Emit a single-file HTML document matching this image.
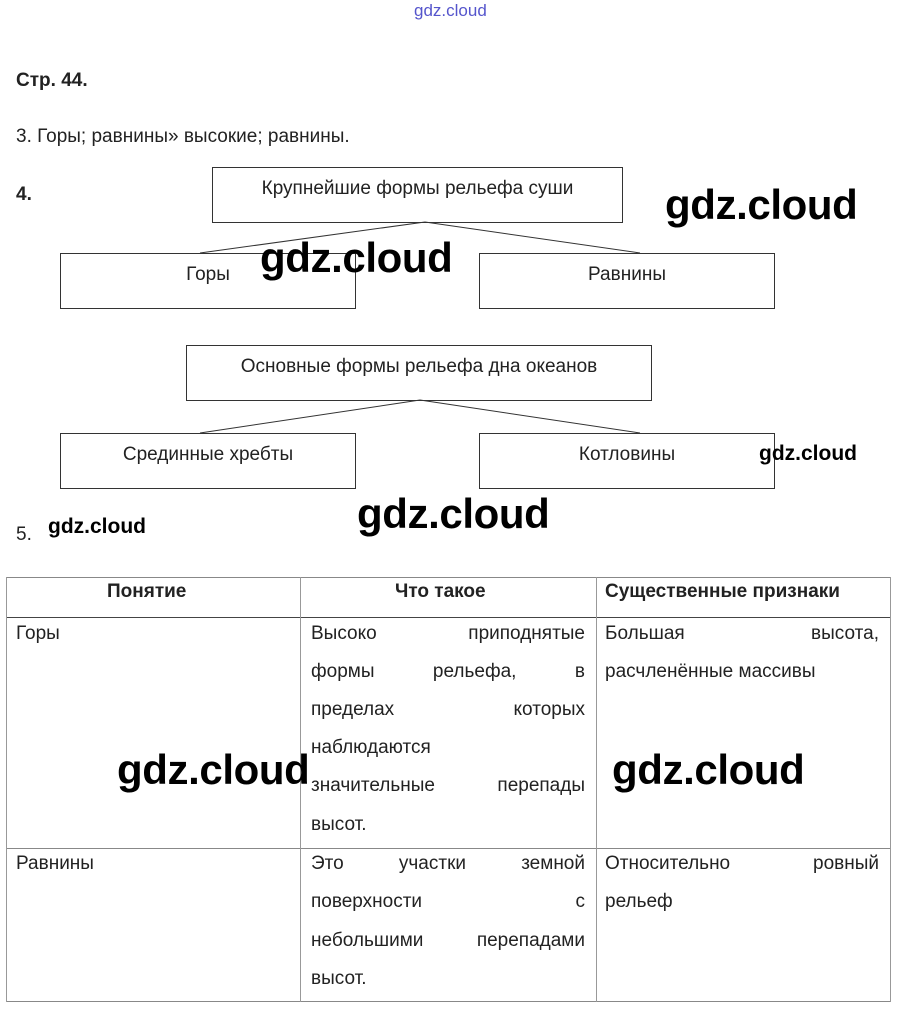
<!DOCTYPE html>
<html><head><meta charset="utf-8"><style>
body{margin:0;width:905px;height:1016px;background:#fff;position:relative;overflow:hidden;font-family:"Liberation Sans",sans-serif;color:#222}
.a{position:absolute;white-space:nowrap}
.box{position:absolute;border:1px solid #333;box-sizing:border-box;text-align:center;font-size:19px;padding-top:10px}
.wm{position:absolute;font-family:"Liberation Sans",sans-serif;font-weight:bold;color:#000;font-size:42px;letter-spacing:-0.4px;white-space:nowrap}
.ln{position:absolute;display:flex;justify-content:space-between;font-size:19px;white-space:nowrap}
.v{position:absolute;width:1px;background:#999}
.h{position:absolute;height:1px;background:#888}
</style></head><body>
<div class="a" style="left:414px;top:1px;font-size:17px;color:#55c">gdz.cloud</div>
<div class="a" style="left:16px;top:70px;font-size:19px;font-weight:bold">Стр. 44.</div>
<div class="a" style="left:16px;top:126px;font-size:19px">3. Горы; равнины» высокие; равнины.</div>
<div class="a" style="left:16px;top:184px;font-size:19px;font-weight:bold">4.</div>

<svg class="a" style="left:0;top:0" width="905" height="520">
<line x1="425" y1="222" x2="200" y2="253" stroke="#333"/>
<line x1="425" y1="222" x2="640" y2="253" stroke="#333"/>
<line x1="420" y1="400" x2="200" y2="433" stroke="#333"/>
<line x1="420" y1="400" x2="640" y2="433" stroke="#333"/>
</svg>
<div class="box" style="left:212px;top:167px;width:411px;height:56px">Крупнейшие формы рельефа суши</div>
<div class="box" style="left:60px;top:253px;width:296px;height:56px">Горы</div>
<div class="box" style="left:479px;top:253px;width:296px;height:56px">Равнины</div>
<div class="box" style="left:186px;top:345px;width:466px;height:56px">Основные формы рельефа дна океанов</div>
<div class="box" style="left:60px;top:433px;width:296px;height:56px">Срединные хребты</div>
<div class="box" style="left:479px;top:433px;width:296px;height:56px">Котловины</div>

<div class="a" style="left:16px;top:524px;font-size:19px">5.</div>

<div class="h" style="left:6px;top:577px;width:885px"></div>
<div class="h" style="left:6px;top:617px;width:885px;background:#444"></div>
<div class="h" style="left:6px;top:848px;width:885px"></div>
<div class="h" style="left:6px;top:1001px;width:885px"></div>
<div class="v" style="left:6px;top:577px;height:425px"></div>
<div class="v" style="left:300px;top:577px;height:425px"></div>
<div class="v" style="left:596px;top:577px;height:425px"></div>
<div class="v" style="left:890px;top:577px;height:425px"></div>

<div class="a" style="left:107px;top:581px;font-size:19px;font-weight:bold">Понятие</div>
<div class="a" style="left:395px;top:581px;font-size:19px;font-weight:bold">Что такое</div>
<div class="a" style="left:605px;top:581px;font-size:19px;font-weight:bold">Существенные признаки</div>

<div class="a" style="left:16px;top:623px;font-size:19px">Горы</div>
<div class="ln" style="left:311px;top:623px;width:274px"><span>Высоко</span><span>приподнятые</span></div>
<div class="ln" style="left:311px;top:661px;width:274px"><span>формы</span><span>рельефа,</span><span>в</span></div>
<div class="ln" style="left:311px;top:699px;width:274px"><span>пределах</span><span>которых</span></div>
<div class="ln" style="left:311px;top:737px;width:274px"><span>наблюдаются</span></div>
<div class="ln" style="left:311px;top:775px;width:274px"><span>значительные</span><span>перепады</span></div>
<div class="ln" style="left:311px;top:814px;width:274px"><span>высот.</span></div>
<div class="ln" style="left:605px;top:623px;width:274px"><span>Большая</span><span>высота,</span></div>
<div class="ln" style="left:605px;top:661px;width:274px"><span>расчленённые массивы</span></div>

<div class="a" style="left:16px;top:853px;font-size:19px">Равнины</div>
<div class="ln" style="left:311px;top:853px;width:274px"><span>Это</span><span>участки</span><span>земной</span></div>
<div class="ln" style="left:311px;top:891px;width:274px"><span>поверхности</span><span>с</span></div>
<div class="ln" style="left:311px;top:930px;width:274px"><span>небольшими</span><span>перепадами</span></div>
<div class="ln" style="left:311px;top:968px;width:274px"><span>высот.</span></div>
<div class="ln" style="left:605px;top:853px;width:274px"><span>Относительно</span><span>ровный</span></div>
<div class="ln" style="left:605px;top:891px;width:274px"><span>рельеф</span></div>

<div class="wm" style="left:665px;top:181px">gdz.cloud</div>
<div class="wm" style="left:260px;top:234px">gdz.cloud</div>
<div class="wm" style="left:759px;top:442px;font-size:21px;letter-spacing:0">gdz.cloud</div>
<div class="wm" style="left:357px;top:490px">gdz.cloud</div>
<div class="wm" style="left:48px;top:515px;font-size:21px;letter-spacing:0">gdz.cloud</div>
<div class="wm" style="left:117px;top:746px">gdz.cloud</div>
<div class="wm" style="left:612px;top:746px">gdz.cloud</div>
</body></html>
